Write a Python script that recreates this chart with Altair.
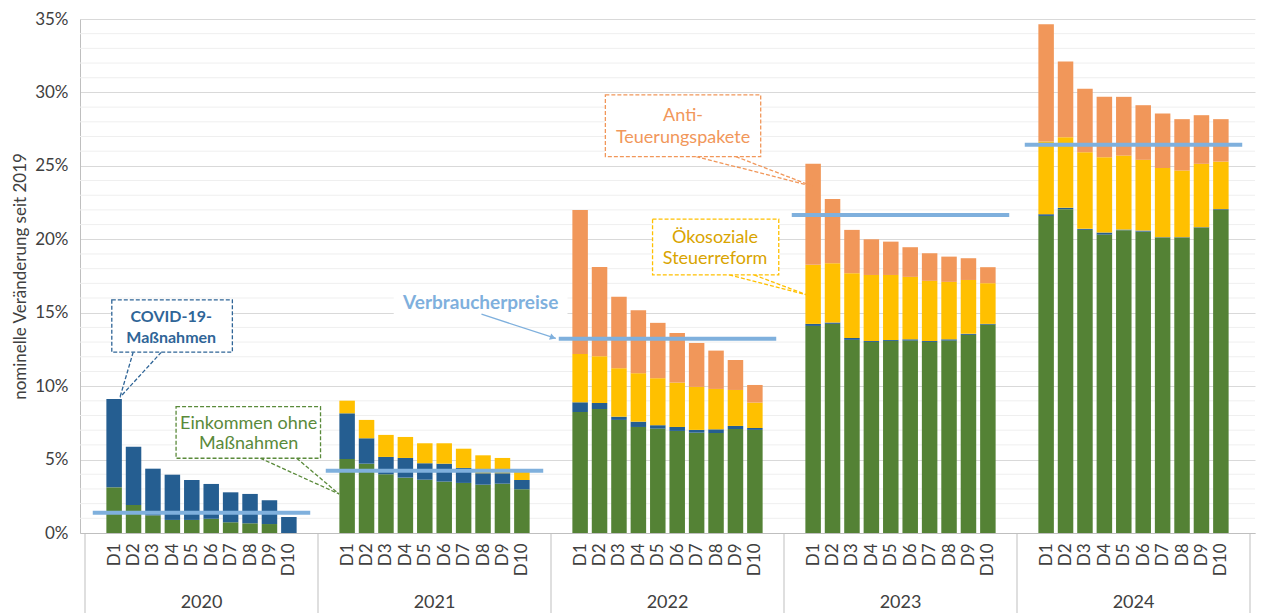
import altair as alt
import pandas as pd

# ---------------- data (percent change since 2019) ----------------
years = ["2020", "2021", "2022", "2023", "2024"]
deciles = ["D1", "D2", "D3", "D4", "D5", "D6", "D7", "D8", "D9", "D10"]

einkommen = [
    [3.11, 1.91, 1.20, 0.89, 0.89, 0.97, 0.73, 0.66, 0.61, 0.00],
    [5.04, 4.72, 4.00, 3.77, 3.63, 3.50, 3.41, 3.29, 3.36, 2.98],
    [8.24, 8.45, 7.70, 7.22, 7.11, 6.95, 6.83, 6.81, 7.08, 7.02],
    [14.10, 14.24, 13.15, 13.01, 13.08, 13.10, 13.01, 13.10, 13.49, 14.19],
    [21.59, 22.05, 20.64, 20.32, 20.62, 20.52, 20.10, 20.10, 20.78, 21.99],
]
covid = [
    [6.02, 3.97, 3.18, 3.08, 2.72, 2.37, 2.04, 2.00, 1.62, 1.09],
    [3.11, 1.73, 1.18, 1.34, 1.12, 1.22, 1.02, 0.78, 0.71, 0.63],
    [0.66, 0.41, 0.22, 0.36, 0.23, 0.27, 0.19, 0.25, 0.21, 0.13],
    [0.14, 0.09, 0.13, 0.07, 0.07, 0.09, 0.07, 0.09, 0.07, 0.05],
    [0.12, 0.09, 0.07, 0.14, 0.04, 0.07, 0.04, 0.04, 0.04, 0.06],
]
oekosozial = [
    [0, 0, 0, 0, 0, 0, 0, 0, 0, 0],
    [0.86, 1.25, 1.50, 1.43, 1.36, 1.39, 1.31, 1.22, 1.04, 0.57],
    [3.29, 3.18, 3.30, 3.30, 3.20, 3.02, 2.93, 2.75, 2.45, 1.73],
    [4.02, 4.04, 4.41, 4.49, 4.42, 4.25, 4.09, 3.91, 3.67, 2.77],
    [4.95, 4.81, 5.22, 5.13, 5.04, 4.82, 4.72, 4.54, 4.32, 3.24],
]
antiteuerung = [
    [0, 0, 0, 0, 0, 0, 0, 0, 0, 0],
    [0, 0, 0, 0, 0, 0, 0, 0, 0, 0],
    [9.81, 6.08, 4.86, 4.29, 3.77, 3.38, 2.99, 2.61, 2.04, 1.20],
    [6.88, 4.38, 2.95, 2.43, 2.27, 2.02, 1.88, 1.72, 1.48, 1.09],
    [7.99, 5.16, 4.32, 4.11, 4.00, 3.72, 3.70, 3.50, 3.31, 2.89],
]
verbraucherpreise = [1.38, 4.24, 13.22, 21.66, 26.43]

series_names = ["Einkommen ohne Maßnahmen", "COVID-19-Maßnahmen",
                "Ökosoziale Steuerreform", "Anti-Teuerungspakete"]
series_colors = ["#548235", "#255E91", "#FFC000", "#F1975A"]
series_values = [einkommen, covid, oekosozial, antiteuerung]

# ---------------- layout ----------------
W, H = 1175, 514
SLOTS = 12  # slots per year group (one blank on each side)
FONT = "Lato"
TXT = "#404040"
CPI_COLOR = "#7FB0DD"

rows = []
for g, yr in enumerate(years):
    for s_i, (name, vals) in enumerate(zip(series_names, series_values)):
        for d, dec in enumerate(deciles):
            rows.append({"pos": g * SLOTS + d + 1.5, "series": name,
                         "value": vals[g][d], "ord": s_i, "year": yr, "dec": dec})
bars_df = pd.DataFrame(rows)

cpi_df = pd.DataFrame({
    "x0": [g * SLOTS + 0.4 for g in range(len(years))],
    "x1": [g * SLOTS + 11.6 for g in range(len(years))],
    "cpi": verbraucherpreise,
})

xscale = alt.Scale(domain=[0, SLOTS * len(years)], nice=False, zero=False)
yscale = alt.Scale(domain=[0, 35], nice=False)

xaxis = alt.Axis(
    values=[g * SLOTS + d + 1.5 for g in range(len(years)) for d in range(10)],
    labelExpr="'D' + (floor(datum.value) % 12)",
    labelAngle=270, labelFontSize=17, labelPadding=10, ticks=False, grid=False,
    labelOverlap=False, labelFlush=False, domainColor="#bfbfbf", title=None,
)
yaxis = alt.Axis(
    values=[0, 5, 10, 15, 20, 25, 30, 35], labelExpr="datum.value + '%'",
    labelFontSize=17, labelPadding=12, ticks=False, grid=True, gridColor="#d9d9d9",
    domainColor="#bfbfbf", title="nominelle Veränderung seit 2019",
    titleFontSize=17, titleFontWeight="normal", titlePadding=5, titleColor=TXT,
)


def X(field, **kw):
    return alt.X(field, type="quantitative", scale=xscale, axis=xaxis, **kw)


def Y(field, **kw):
    return alt.Y(field, type="quantitative", scale=yscale, axis=yaxis, **kw)


# minor gridlines
minor_df = pd.DataFrame({"g": [v for v in range(1, 35) if v % 5 != 0]})
minor = alt.Chart(minor_df).mark_rule(color="#efefef", strokeWidth=1).encode(y=Y("g"))

bars = alt.Chart(bars_df).mark_bar(size=15.5, orient="vertical").encode(
    x=X("pos"),
    y=Y("value", stack="zero"),
    color=alt.Color("series:N", scale=alt.Scale(domain=series_names, range=series_colors),
                    legend=None),
    order=alt.Order("ord:Q"),
)

cpi = alt.Chart(cpi_df).mark_rule(color=CPI_COLOR, strokeWidth=4).encode(
    x=X("x0"), x2="x1", y=Y("cpi"))

sep_df = pd.DataFrame({"sx": [g * SLOTS for g in range(len(years) + 1)]})
seps = alt.Chart(sep_df).mark_rule(color="#bfbfbf", strokeWidth=1).encode(
    x=X("sx"), y=alt.value(H), y2=alt.value(H + 80))

yr_df = pd.DataFrame({"yx": [g * SLOTS + 6 for g in range(len(years))], "yr": years})
yr_text = alt.Chart(yr_df).mark_text(fontSize=18, color=TXT, font=FONT, baseline="middle").encode(
    x=X("yx"), y=alt.value(H + 70), text="yr:N")

# ---------------- callouts (positions in data units: slot, percent) ----------------
callouts = [
    dict(lines=["COVID-19-", "Maßnahmen"], color="#2F6597", bold=True, size=16,
         box=(1.38, 7.59, 12.31, 15.87), tx=4.44, ty=[14.73, 13.26],
         tip=(1.80, 9.24), bases=[2.48, 3.93]),
    dict(lines=["Einkommen ohne", "Maßnahmen"], color="#5A8A3A", bold=False, size=18,
         box=(4.69, 12.13, 5.09, 8.60), tx=8.43, ty=[7.43, 6.04],
         tip=(13.08, 2.66), bases=[9.03, 10.90]),
    dict(lines=["Anti-", "Teuerungspakete"], color="#F1975A", bold=False, size=18,
         box=(26.80, 34.80, 25.63, 29.84), tx=30.80, ty=[28.41, 26.93],
         tip=(37.52, 23.59), bases=[31.48, 33.52]),
    dict(lines=["Ökosoziale", "Steuerreform"], color="#D9A400", bold=False, size=18,
         box=(29.23, 35.73, 17.57, 21.37), tx=32.45, ty=[20.08, 18.64],
         tip=(37.19, 16.21), bases=[33.18, 34.46]),
]
border_colors = {"#2F6597": "#2F6597", "#5A8A3A": "#5A8A3A",
                 "#F1975A": "#F1975A", "#D9A400": "#FFC000"}

ann_layers = []
for c in callouts:
    bc = border_colors[c["color"]]
    lead_df = pd.DataFrame({"lx": c["bases"], "ly": [c["box"][2]] * 2,
                            "tx2": [c["tip"][0]] * 2, "ty2": [c["tip"][1]] * 2})
    ann_layers.append(alt.Chart(lead_df).mark_rule(color=bc, strokeWidth=1.3, strokeDash=[4, 2]).encode(
        x=X("lx"), y=Y("ly"), x2="tx2", y2="ty2"))
    box_df = pd.DataFrame({"bx0": [c["box"][0]], "bx1": [c["box"][1]],
                           "by0": [c["box"][2]], "by1": [c["box"][3]]})
    ann_layers.append(alt.Chart(box_df).mark_rect(fill="white", stroke=bc, strokeWidth=1.3,
                                                  strokeDash=[4, 2]).encode(
        x=X("bx0"), x2="bx1", y=Y("by0"), y2="by1"))
    t_df = pd.DataFrame({"tx": [c["tx"]] * len(c["lines"]), "ty": c["ty"], "t": c["lines"]})
    ann_layers.append(alt.Chart(t_df).mark_text(
        fontSize=c["size"], font=FONT, color=c["color"],
        fontWeight="bold" if c["bold"] else "normal",
        baseline="middle").encode(x=X("tx"), y=Y("ty"), text="t:N"))

# Verbraucherpreise label with arrow
vp_bg = alt.Chart(pd.DataFrame({"a": [15.9], "b": [24.85], "c": [14.92], "d": [16.42]})).mark_rect(
    fill="white").encode(x=X("a"), x2="b", y=Y("c"), y2="d")
vp_line = alt.Chart(pd.DataFrame({"a": [20.42], "b": [14.90], "c": [24.25], "d": [13.25]})).mark_rule(
    color=CPI_COLOR, strokeWidth=1.3).encode(x=X("a"), y=Y("b"), x2="c", y2="d")
vp_head = alt.Chart(pd.DataFrame({"a": [24.05], "b": [13.33]})).mark_point(
    shape="triangle", filled=True, size=45, angle=108, color=CPI_COLOR, opacity=1).encode(
    x=X("a"), y=Y("b"))
vp_text = alt.Chart(pd.DataFrame({"a": [20.38], "b": [15.69], "t": ["Verbraucherpreise"]})).mark_text(
    fontSize=19, font=FONT, fontWeight="bold", color=CPI_COLOR, baseline="middle").encode(
    x=X("a"), y=Y("b"), text="t:N")

chart = alt.layer(
    minor, bars, cpi, seps, yr_text, vp_bg, vp_line, vp_head, vp_text, *ann_layers
).properties(
    width=W, height=H, padding={"left": 3, "top": 2, "right": 0, "bottom": 0}
).configure_view(stroke=None).configure_axis(
    labelFont=FONT, titleFont=FONT, labelColor=TXT
).configure_text(font=FONT)

chart.save("out.html", embed_options={"renderer": "svg", "actions": False})
